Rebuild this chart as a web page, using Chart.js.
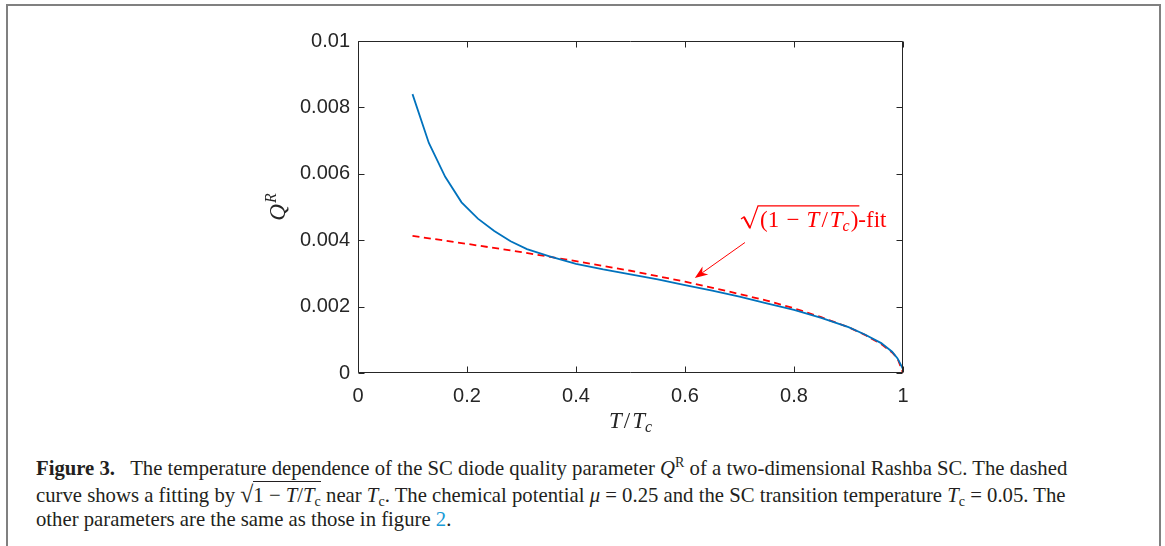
<!DOCTYPE html>
<html>
<head>
<meta charset="utf-8">
<script src="https://cdn.jsdelivr.net/npm/chart.js@4.4.1/dist/chart.umd.min.js"></script>
<style>
    html, body { margin: 0; padding: 0; background: #fff; }
    body { width: 1165px; height: 546px; position: relative; overflow: hidden; }
    #frame { position: absolute; left: 6px; top: 4px; width: 1151px; height: 620px;
             border: 2px solid #808080; border-bottom: none; z-index: 2; pointer-events: none; }
    #chartBox { position: absolute; left: 0; top: 0; width: 1165px; height: 450px; }
    #caption { position: absolute; left: 36px; top: 456px; font-family: "Liberation Serif", "DejaVu Serif", serif;
               font-size: 19px; line-height: 24.5px; color: #231f20; white-space: nowrap; }
    #caption .ln span { display: inline-block; }
    #caption sup, #caption sub { font-size: 68%; line-height: 0; }
    #caption sup { vertical-align: 0.55em; }
    #caption sub { vertical-align: -0.25em; }
    .ov { border-top: 1.2px solid #231f20; padding-top: 1px; }
    .rad { font-size: 115%; }
    .lnk { color: #1a9bd7; }
</style>
</head>
<body>
<div id="frame"></div>
<div id="chartBox"><canvas id="idChartQR" width="1165" height="450"></canvas></div>
<div id="caption">
    <div class="ln"><span id="capLine1"><b>Figure 3.</b>&ensp; The temperature dependence of the SC diode quality parameter <i>Q</i><sup>R</sup> of a two-dimensional Rashba SC. The dashed</span></div>
    <div class="ln"><span>curve shows a fitting by <span class="rad">√</span><span class="ov">1 − <i>T</i>/<i>T</i><sub>c</sub></span> near <i>T</i><sub>c</sub>. The chemical potential <i>μ</i> = 0.25 and the SC transition temperature <i>T</i><sub>c</sub> = 0.05. The</span></div>
    <div class="ln"><span>other parameters are the same as those in figure <span class="lnk">2</span>.</span></div>
</div>
<script>
// blue curve: Q^R(T/Tc)
var aBlueT = [0.1, 0.13, 0.16, 0.19, 0.22, 0.25, 0.28, 0.31, 0.35, 0.4, 0.45, 0.5, 0.55, 0.6,
              0.65, 0.7, 0.75, 0.8, 0.85, 0.9, 0.93, 0.96, 0.98, 0.99, 1.0];
var aBlueQ = [0.00840, 0.00693, 0.00591, 0.00514, 0.00465, 0.00428, 0.00397, 0.00373, 0.00352, 0.00329,
              0.00312, 0.00297, 0.00282, 0.00265, 0.00248, 0.00230, 0.00210, 0.00190, 0.00166, 0.00138,
              0.00116, 0.00090, 0.00064, 0.00044, 0.00012];

// red dashed fit
var aFitT = [0.1, 0.2, 0.3, 0.4, 0.5, 0.6, 0.7, 0.75, 0.8, 0.85, 0.9, 0.93, 0.96, 0.98, 0.99, 1.0];
var aFitQ = [0.00413, 0.00389, 0.00364, 0.00337, 0.00308, 0.00275, 0.00238, 0.00218, 0.00195, 0.00168,
             0.00138, 0.00115, 0.00087, 0.00062, 0.00044, 0.0];

var aXTickLabels = ['0', '0.2', '0.4', '0.6', '0.8', '1'];
var aYTickLabels = ['0', '0.002', '0.004', '0.006', '0.008', '0.01'];

// annotation anchors, in data units
var oArrowFrom = { x: 0.710, y: 0.00393 };
var oArrowTo = { x: 0.618, y: 0.00286 };
var oFitLabel = { x: 0.7376, y: 0.00440 };

var sAxisColor = '#262626';
var sSerif = '"Liberation Serif", "DejaVu Serif", serif';

function toPoints(aX, aY) {
    var aData = [];
    for (var i = 0; i < aX.length; i++) {
        aData.push({ x: aX[i], y: aY[i] });
    }
    return aData;
}

// runs are [text, font, dy, gapAfter]; returns end x
function drawRuns(ctx, aRuns, x, y) {
    for (var i = 0; i < aRuns.length; i++) {
        ctx.font = aRuns[i][1];
        ctx.fillText(aRuns[i][0], x, y + (aRuns[i][2] || 0));
        x += ctx.measureText(aRuns[i][0]).width + (aRuns[i][3] || 0);
    }
    return x;
}

function runsWidth(ctx, aRuns) {
    var w = 0;
    for (var i = 0; i < aRuns.length; i++) {
        ctx.font = aRuns[i][1];
        w += ctx.measureText(aRuns[i][0]).width + (aRuns[i][3] || 0);
    }
    return w;
}

const figPlugin = {
    id: 'figPlugin',
    afterDraw: function (chart) {
        var ctx = chart.ctx;
        var a = chart.chartArea;
        var xs = chart.scales.x;
        var ys = chart.scales.y;
        var L = Math.round(a.left) + 0.5, R = Math.round(a.right) - 0.5;
        var T = Math.round(a.top) + 0.5, B = Math.round(a.bottom) - 0.5;
        var iTick = 6;

        ctx.save();
        // box and inward ticks
        ctx.strokeStyle = sAxisColor;
        ctx.lineWidth = 1;
        ctx.beginPath();
        ctx.rect(L, T, R - L, B - T);
        xs.ticks.forEach(function (t) {
            var px = Math.round(xs.getPixelForValue(t.value)) + 0.5;
            ctx.moveTo(px, B); ctx.lineTo(px, B - iTick);
            ctx.moveTo(px, T); ctx.lineTo(px, T + iTick);
        });
        ys.ticks.forEach(function (t) {
            var py = Math.round(ys.getPixelForValue(t.value)) + 0.5;
            ctx.moveTo(L, py); ctx.lineTo(L + iTick, py);
            ctx.moveTo(R, py); ctx.lineTo(R - iTick, py);
        });
        ctx.stroke();

        // axis titles
        ctx.fillStyle = sAxisColor;
        ctx.textBaseline = 'alphabetic';
        var fI = 'italic 23px ' + sSerif, fR = '23px ' + sSerif, fS = 'italic 16px ' + sSerif;
        var aXRuns = [['T', fI, 0, 2], ['/', fR, 0, 2], ['T', fI, 0, 0], ['c', fS, 4]];
        var cx = (a.left + a.right) / 2;
        drawRuns(ctx, aXRuns, cx - runsWidth(ctx, aXRuns) / 2, 428);

        var aYRuns = [['Q', fI, 0, 1], ['R', fS, -9]];
        ctx.save();
        ctx.translate(285, (a.top + a.bottom) / 2);
        ctx.rotate(-Math.PI / 2);
        drawRuns(ctx, aYRuns, -runsWidth(ctx, aYRuns) / 2, 0);
        ctx.restore();

        // annotation arrow
        ctx.strokeStyle = 'rgb(255,0,0)';
        ctx.fillStyle = 'rgb(255,0,0)';
        var x0 = xs.getPixelForValue(oArrowFrom.x), y0 = ys.getPixelForValue(oArrowFrom.y);
        var x1 = xs.getPixelForValue(oArrowTo.x), y1 = ys.getPixelForValue(oArrowTo.y);
        var ang = Math.atan2(y1 - y0, x1 - x0);
        var hl = 13, hw = 5;
        ctx.lineWidth = 1;
        ctx.beginPath();
        ctx.moveTo(x0, y0);
        ctx.lineTo(x1 - Math.cos(ang) * hl * 0.7, y1 - Math.sin(ang) * hl * 0.7);
        ctx.stroke();
        ctx.beginPath();
        ctx.moveTo(x1, y1);
        ctx.lineTo(x1 - Math.cos(ang) * hl - Math.sin(ang) * hw, y1 - Math.sin(ang) * hl + Math.cos(ang) * hw);
        ctx.lineTo(x1 - Math.cos(ang) * hl * 0.7, y1 - Math.sin(ang) * hl * 0.7);
        ctx.lineTo(x1 - Math.cos(ang) * hl + Math.sin(ang) * hw, y1 - Math.sin(ang) * hl - Math.cos(ang) * hw);
        ctx.closePath();
        ctx.fill();

        // annotation label: sqrt((1 - T/Tc))-fit
        var tx = xs.getPixelForValue(oFitLabel.x), ty = ys.getPixelForValue(oFitLabel.y);
        var aFitRuns = [['(1 ', fR, 0, 1.5], ['\u2212', fR, 0, 1.5], [' ', fR], ['T', fI, 0, 2], ['/', fR, 0, 2],
                        ['T', fI], ['c', fS, 4, 1], [')', fR]];
        var xEnd = drawRuns(ctx, aFitRuns, tx, ty);
        drawRuns(ctx, [['-fit', fR]], xEnd, ty);
        ctx.lineWidth = 1.2;
        ctx.beginPath();
        ctx.moveTo(tx - 19, ty - 8);
        ctx.lineTo(tx - 16, ty - 10);
        ctx.lineTo(tx - 10, ty + 1);
        ctx.lineTo(tx - 2, ty - 21);
        ctx.lineTo(xEnd + 1, ty - 21);
        ctx.stroke();
        ctx.lineWidth = 2;
        ctx.beginPath();
        ctx.moveTo(tx - 16, ty - 10);
        ctx.lineTo(tx - 10, ty + 1);
        ctx.stroke();
        ctx.restore();
    }
};

function initChartQR() {
    const data = {
        datasets: [{
            label: 'Q^R',
            data: toPoints(aBlueT, aBlueQ),
            borderColor: 'rgb(0,114,189)',
            borderWidth: 1.8,
            pointRadius: 0,
            tension: 0
        }, {
            label: 'fit',
            data: toPoints(aFitT, aFitQ),
            borderColor: 'rgb(255,0,0)',
            borderWidth: 1.8,
            borderDash: [7, 4.5],
            pointRadius: 0,
            tension: 0
        }]
    };

    const config = {
        type: 'line',
        data: data,
        options: {
            responsive: false,
            animation: false,
            devicePixelRatio: 1,
            layout: { padding: { left: 0, top: 41, right: 262, bottom: 0 } },
            plugins: {
                legend: { display: false },
                tooltip: { enabled: false }
            },
            scales: {
                x: {
                    type: 'linear',
                    min: 0,
                    max: 1,
                    grid: { display: false, drawTicks: false },
                    border: { display: false },
                    ticks: {
                        stepSize: 0.2,
                        padding: 11,
                        color: sAxisColor,
                        font: { family: '"Liberation Sans", Arial, sans-serif', size: 20 },
                        maxRotation: 0,
                        callback: function (v, i) { return aXTickLabels[i]; }
                    },
                    afterFit: function (s) { s.height = 77; }
                },
                y: {
                    type: 'linear',
                    min: 0,
                    max: 0.01,
                    grid: { display: false, drawTicks: false },
                    border: { display: false },
                    ticks: {
                        stepSize: 0.002,
                        padding: 8,
                        color: sAxisColor,
                        font: { family: '"Liberation Sans", Arial, sans-serif', size: 20 },
                        callback: function (v, i) { return aYTickLabels[i]; }
                    },
                    afterFit: function (s) { s.width = 358; }
                }
            }
        },
        plugins: [figPlugin]
    };

    const oChartQR = new Chart(document.getElementById('idChartQR'), config);
}

// stretch caption font so the first line spans like the original
function fitCaption() {
    var oLine = document.getElementById('capLine1');
    var oCap = document.getElementById('caption');
    var w = oLine.getBoundingClientRect().width;
    var fs = 19 * 1032 / w;
    oCap.style.fontSize = fs.toFixed(2) + 'px';
}

fitCaption();
initChartQR();
</script>
</body>
</html>
